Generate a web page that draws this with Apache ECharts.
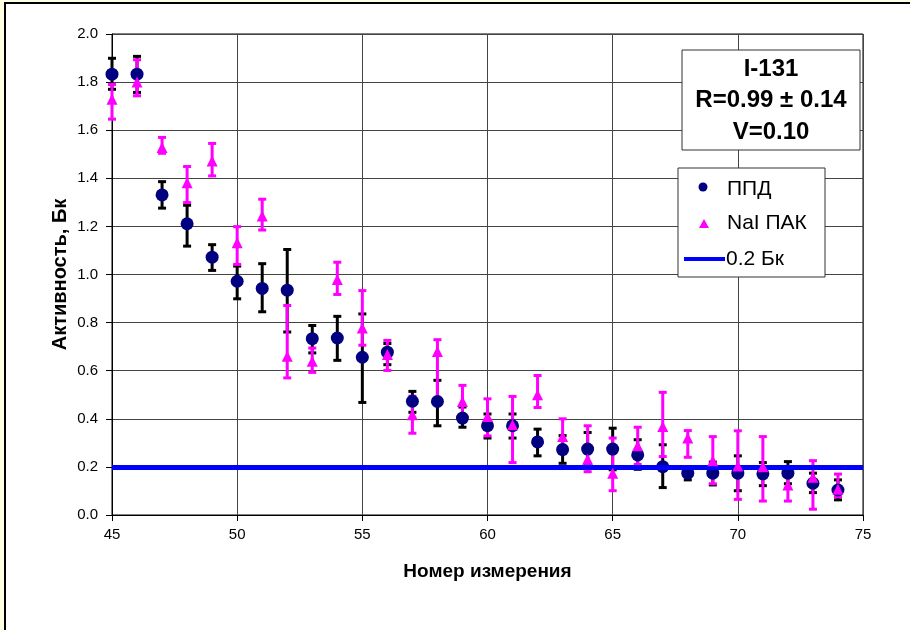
<!DOCTYPE html>
<html>
<head>
<meta charset="utf-8">
<script src="https://cdn.jsdelivr.net/npm/echarts@6/dist/echarts.min.js"></script>
<style>html,body{margin:0;padding:0;}#c{width:910px;height:630px;}</style>
</head>
<body>
<div id="c"></div>
<script>
const xValues = [45,46,47,48,49,50,51,52,53,54,55,56,57,58,59,60,61,62,63,64,65,66,67,68,69,70,71,72,73,74];
const ppdValue = [1.833,1.833,1.331,1.211,1.072,0.972,0.942,0.935,0.733,0.736,0.656,0.677,0.473,0.472,0.403,0.371,0.371,0.304,0.272,0.274,0.274,0.250,0.201,0.174,0.174,0.174,0.171,0.174,0.132,0.104];
const ppdLow   = [1.770,1.757,1.276,1.118,1.017,0.899,0.845,0.761,0.674,0.643,0.468,0.625,0.427,0.371,0.365,0.320,0.320,0.246,0.215,0.205,0.188,0.190,0.114,0.146,0.125,0.101,0.122,0.130,0.093,0.063];
const ppdHigh  = [1.899,1.907,1.386,1.288,1.124,1.035,1.045,1.104,0.788,0.826,0.836,0.713,0.514,0.560,0.449,0.420,0.420,0.357,0.330,0.343,0.361,0.313,0.292,0.200,0.220,0.246,0.218,0.222,0.174,0.146];
const naiValue = [1.729,1.800,1.528,1.382,1.472,1.132,1.243,0.660,0.639,0.979,0.778,0.667,0.417,0.680,0.472,0.410,0.375,0.500,0.326,0.232,0.174,0.288,0.368,0.320,0.226,0.204,0.201,0.125,0.157,0.107];
const naiLow   = [1.646,1.743,1.504,1.299,1.410,1.042,1.185,0.570,0.593,0.917,0.706,0.601,0.340,0.480,0.410,0.329,0.218,0.447,0.257,0.180,0.101,0.210,0.243,0.240,0.130,0.065,0.058,0.058,0.024,0.076];
const naiHigh  = [1.790,1.893,1.570,1.449,1.545,1.199,1.313,0.871,0.694,1.051,0.933,0.726,0.494,0.729,0.539,0.483,0.493,0.580,0.400,0.371,0.320,0.365,0.510,0.351,0.326,0.350,0.326,0.174,0.226,0.170];
const threshold = 0.2;
const seriesNames = ['ППД', 'NaI ПАК', '0.2 Бк'];
const infoLines = ['I-131', 'R=0.99 ± 0.14', 'V=0.10'];
const xTitle = 'Номер измерения';
const yTitle = 'Активность, Бк';

const FONT = '"Liberation Sans", Arial, sans-serif';

function errRender(color) {
  return function (params, api) {
    const x = api.value(0), lo = api.value(1), hi = api.value(2);
    const a = api.coord([x, lo]);
    const b = api.coord([x, hi]);
    const hw = 4;
    const st = { stroke: color, lineWidth: 3 };
    return {
      type: 'group',
      children: [
        { type: 'line', shape: { x1: a[0], y1: a[1], x2: b[0], y2: b[1] }, style: st },
        { type: 'line', shape: { x1: a[0] - hw, y1: a[1], x2: a[0] + hw, y2: a[1] }, style: st },
        { type: 'line', shape: { x1: b[0] - hw, y1: b[1], x2: b[0] + hw, y2: b[1] }, style: st }
      ]
    };
  };
}

const chart = echarts.init(document.getElementById('c'), null, { renderer: 'canvas' });

const infoText = infoLines.map((t, i) => ({
  type: 'text', z: 101,
  style: { text: t, x: 771, y: 69 + i * 31.5, align: 'center', verticalAlign: 'middle',
           font: 'bold 24px ' + FONT, fill: '#000' }
}));

chart.setOption({
  backgroundColor: '#FFFFE3',
  animation: false,
  graphic: {
    elements: [
      { type: 'rect', z: -100, silent: true,
        shape: { x: 5, y: 3, width: 1000, height: 1000 },
        style: { fill: '#ffffff', stroke: '#000', lineWidth: 2 } },
      { type: 'rect', z: 100,
        shape: { x: 682, y: 50, width: 178, height: 100 },
        style: { fill: '#ffffff', stroke: '#333', lineWidth: 1 } },
      ...infoText,
      { type: 'rect', z: 100,
        shape: { x: 678, y: 168, width: 147, height: 109 },
        style: { fill: '#ffffff', stroke: '#333', lineWidth: 1 } },
      { type: 'circle', z: 101, shape: { cx: 703, cy: 187, r: 4.5 }, style: { fill: '#000080' } },
      { type: 'text', z: 101, style: { text: seriesNames[0], x: 727, y: 189, verticalAlign: 'middle', font: '21px ' + FONT, fill: '#000' } },
      { type: 'polygon', z: 101, shape: { points: [[704, 219], [699, 228], [709, 228]] }, style: { fill: '#FF00FF' } },
      { type: 'text', z: 101, style: { text: seriesNames[1], x: 727, y: 223, verticalAlign: 'middle', font: '21px ' + FONT, fill: '#000' } },
      { type: 'line', z: 101, shape: { x1: 684, y1: 259, x2: 725, y2: 259 }, style: { stroke: '#0000FF', lineWidth: 4 } },
      { type: 'text', z: 101, style: { text: seriesNames[2], x: 726, y: 259, verticalAlign: 'middle', font: '21px ' + FONT, fill: '#000' } }
    ]
  },
  grid: { left: 112, right: 47, top: 34, bottom: 115, show: true, borderColor: '#000', borderWidth: 1, backgroundColor: 'transparent' },
  xAxis: {
    type: 'value', min: 45, max: 75, interval: 5,
    name: xTitle, nameLocation: 'middle', nameGap: 47, nameMoveOverlap: false,
    nameTextStyle: { fontFamily: FONT, fontWeight: 'bold', fontSize: 19, color: '#000' },
    axisLine: { show: true, onZero: false, lineStyle: { color: '#000', width: 1 } },
    axisTick: { show: true, inside: false, length: 6, lineStyle: { color: '#000' } },
    axisLabel: { fontFamily: FONT, fontSize: 15, color: '#000', margin: 12 },
    splitLine: { show: true, lineStyle: { color: '#444', width: 1 } }
  },
  yAxis: {
    type: 'value', min: 0, max: 2, interval: 0.2,
    name: yTitle, nameLocation: 'middle', nameGap: 42, nameMoveOverlap: false,
    nameTextStyle: { fontFamily: FONT, fontWeight: 'bold', fontSize: 20, color: '#000' },
    axisLine: { show: true, lineStyle: { color: '#000', width: 1 } },
    axisTick: { show: true, inside: false, length: 6, lineStyle: { color: '#000' } },
    axisLabel: { fontFamily: FONT, fontSize: 15, color: '#000', margin: 14, formatter: v => v.toFixed(1) },
    splitLine: { show: true, lineStyle: { color: '#444', width: 1 } }
  },
  series: [
    {
      name: seriesNames[2], type: 'line', data: [], z: 1,
      markLine: {
        silent: true, symbol: 'none', label: { show: false },
        lineStyle: { color: '#0000FF', width: 5, type: 'solid' },
        data: [{ yAxis: threshold }]
      }
    },
    {
      type: 'custom', z: 2, renderItem: errRender('#000000'),
      encode: { x: 0, y: [1, 2] },
      data: xValues.map((x, i) => [x, ppdLow[i], ppdHigh[i]])
    },
    {
      type: 'custom', z: 3, renderItem: errRender('#FF00FF'),
      encode: { x: 0, y: [1, 2] },
      data: xValues.map((x, i) => [x, naiLow[i], naiHigh[i]])
    },
    {
      name: seriesNames[0], type: 'scatter', z: 4, symbol: 'circle', symbolSize: 13,
      itemStyle: { color: '#000080', opacity: 1 },
      data: xValues.map((x, i) => [x, ppdValue[i]])
    },
    {
      name: seriesNames[1], type: 'scatter', z: 5, symbol: 'triangle', symbolSize: [11, 11],
      itemStyle: { color: '#FF00FF', opacity: 1 },
      data: xValues.map((x, i) => [x, naiValue[i]])
    }
  ]
});
</script>
</body>
</html>
